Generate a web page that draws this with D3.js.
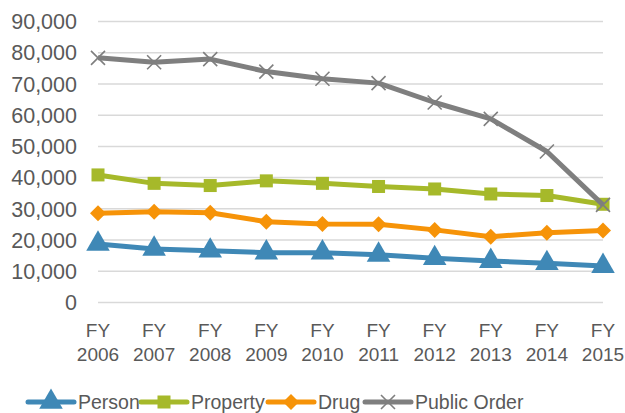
<!DOCTYPE html>
<html>
<head>
<meta charset="utf-8">
<script src="https://cdn.jsdelivr.net/npm/d3@7"></script>
<style>
  body { margin: 0; background: #fff; }
  text { font-family: "Liberation Sans", Arial, sans-serif; fill: #595959; }
</style>
</head>
<body>
<div id="chart"></div>
<script>
// chart data
const years = ["2006", "2007", "2008", "2009", "2010", "2011", "2012", "2013", "2014", "2015"];
const person = [18600, 17000, 16400, 15800, 15800, 15100, 14000, 13100, 12400, 11500];
const property = [40700, 38000, 37300, 38800, 38000, 37000, 36200, 34600, 34100, 31300];
const drug = [28400, 28900, 28600, 25700, 25000, 24900, 23100, 20900, 22200, 22900];
const publicOrder = [78200, 76800, 77800, 73800, 71500, 70100, 63900, 58650, 48200, 31100];
const yTicks = [0, 10000, 20000, 30000, 40000, 50000, 60000, 70000, 80000, 90000];

const series = [
    { name: "Person", values: person, color: "#3f88b6", marker: "triangle" },
    { name: "Property", values: property, color: "#a6b92a", marker: "square" },
    { name: "Drug", values: drug, color: "#f69308", marker: "diamond" },
    { name: "Public Order", values: publicOrder, color: "#7f7f7f", marker: "x" }
];

const W = 625, H = 413;
const svg = d3.select("#chart").append("svg").attr("width", W).attr("height", H);

const x = d3.scalePoint().domain(years).range([98, 603]);
const y = d3.scaleLinear().domain([0, 90000]).range([302, 21]);

/* grid + y labels */
const yAxis = d3.axisLeft(y).tickValues(yTicks).tickSize(-(603 - 98)).tickPadding(21)
    .tickFormat(d3.format(","));
const gy = svg.append("g").attr("transform", "translate(98,0)").call(yAxis);
gy.select(".domain").remove();
gy.selectAll("line").attr("stroke", "#d9d9d9").attr("stroke-width", 1.5);
gy.selectAll("text").style("font-size", "21.5px").attr("fill", "#595959").attr("dy", "0.36em");

/* x labels */
const gx = svg.append("g");
years.forEach(yr => {
    const t = gx.append("text").attr("x", x(yr)).attr("text-anchor", "middle").style("font-size", "19px");
    t.append("tspan").attr("x", x(yr)).attr("y", 337).text("FY");
    t.append("tspan").attr("x", x(yr)).attr("y", 361).text(yr);
});

function drawMarker(g, type, cx, cy, color) {
    if (type === "triangle") {
        g.append("path").attr("d", d3.symbol(d3.symbolTriangle, 240)())
            .attr("transform", `translate(${cx},${cy})`).attr("fill", color);
    } else if (type === "square") {
        g.append("rect").attr("x", cx - 6.5).attr("y", cy - 6.5).attr("width", 13).attr("height", 13).attr("fill", color);
    } else if (type === "diamond") {
        g.append("path").attr("d", `M${cx},${cy - 8}L${cx + 8},${cy}L${cx},${cy + 8}L${cx - 8},${cy}Z`).attr("fill", color);
    } else {
        g.append("path").attr("d", `M${cx - 7},${cy - 7}L${cx + 7},${cy + 7}M${cx - 7},${cy + 7}L${cx + 7},${cy - 7}`)
            .attr("stroke", color).attr("stroke-width", 1.6).attr("fill", "none");
    }
}

const line = d3.line().x((d, i) => x(years[i])).y(d => y(d));

series.forEach(s => {
    const g = svg.append("g");
    g.append("path").datum(s.values).attr("d", line).attr("fill", "none")
        .attr("stroke", s.color).attr("stroke-width", 5).attr("stroke-linejoin", "round");
    s.values.forEach((v, i) => drawMarker(g, s.marker, x(years[i]), y(v), s.color));
});

/* legend */
const legendX = [28, 141, 268, 365];
const leg = svg.append("g");
series.forEach((s, i) => {
    const lx = legendX[i], ly = 402;
    leg.append("line").attr("x1", lx).attr("x2", lx + 46).attr("y1", ly).attr("y2", ly)
        .attr("stroke", s.color).attr("stroke-width", 5).attr("stroke-linecap", "round");
    drawMarker(leg, s.marker, lx + 23, ly, s.color);
    leg.append("text").attr("x", lx + 50).attr("y", ly).attr("dy", "0.36em").style("font-size", "19.5px").text(s.name);
});
</script>
</body>
</html>
